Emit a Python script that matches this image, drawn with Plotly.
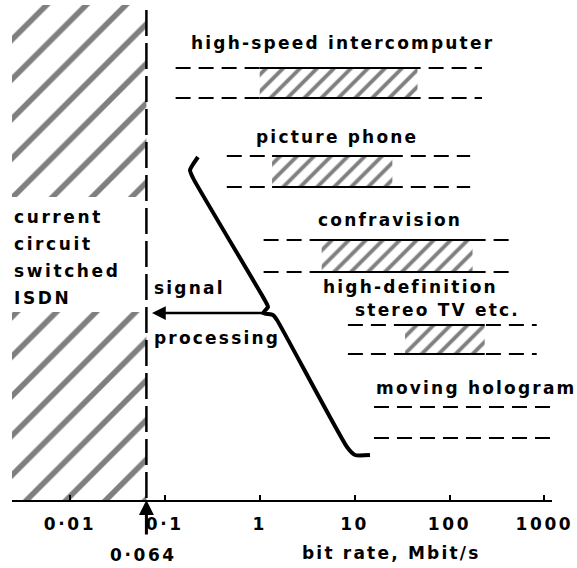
import math
import plotly.graph_objects as go

# Bit-rate requirements of broadband services (Mbit/s)
services = ["high-speed intercomputer", "picture phone", "confravision",
            "high-definition", "moving hologram"]
range_lo = [0.13, 0.45, 1.1, 8.5, 16]
range_hi = [220, 165, 490, 830, 1200]
core_lo = [1.0, 1.35, 4.5, 34, None]
core_hi = [46, 25, 175, 235, None]

isdn_rate = 0.064            # current circuit switched ISDN limit
tick_vals = [0.01, 0.1, 1, 10, 100, 1000]
tick_text = ["0·01", "0·1", "1", "10", "100", "1000"]

# vertical layout (plot height units, 0 = axis)
row_top = [432, 344, 260, 175, 93]
row_bot = [402, 313, 228, 146, 62]
label_x = [342, 337, 390, 410, 476]      # label centres, px from figure left
label_y = [457, 363, 280, 213, 112]

X0, XPX = 259.7, 94.9        # px position of 1 Mbit/s and px per decade
LEFT, RIGHT = 12, 552
PLOT_H = 500


def px_to_rate(px):
    return 10 ** ((px - X0) / XPX)


def px_to_log(px):
    return (px - X0) / XPX


def spaced(txt, sp=2.2):
    return f'<span style="letter-spacing:{sp}px">{txt}</span>'


FONT = dict(family="DejaVu Sans", size=17, color="black", weight="bold")
BLACK = "black"

fig = go.Figure()

x_min = px_to_rate(LEFT)

# hatched band of current circuit-switched ISDN (split around its caption)
for y_a, y_b in [(303, 495), (0, 188)]:
    fig.add_trace(go.Scatter(
        x=[x_min, isdn_rate, isdn_rate, x_min, x_min],
        y=[y_a, y_a, y_b, y_b, y_a],
        mode="lines", fill="toself", line=dict(width=0),
        fillcolor="rgba(0,0,0,0)",
        fillpattern=dict(shape="/", size=28, solidity=0.2,
                         fgcolor=BLACK, bgcolor="white"),
        hoverinfo="skip", showlegend=False))

# ISDN limit
fig.add_trace(go.Scatter(
    x=[isdn_rate, isdn_rate], y=[490, 0], mode="lines",
    line=dict(color=BLACK, width=2.5, dash="26px,7px"),
    hoverinfo="skip", showlegend=False))

# service bands
for i in range(len(services)):
    if core_lo[i] is not None:
        fig.add_trace(go.Scatter(
            x=[core_lo[i], core_hi[i], core_hi[i], core_lo[i], core_lo[i]],
            y=[row_top[i], row_top[i], row_bot[i], row_bot[i], row_top[i]],
            mode="lines", fill="toself", line=dict(width=0),
            fillcolor="rgba(0,0,0,0)",
            fillpattern=dict(shape="/", size=12, solidity=0.32,
                             fgcolor=BLACK, bgcolor="white"),
            hoverinfo="skip", showlegend=False))
    for yy in (row_top[i], row_bot[i]):
        fig.add_trace(go.Scatter(
            x=[range_lo[i], range_hi[i]], y=[yy, yy], mode="lines",
            line=dict(color=BLACK, width=2, dash="15px,8px"),
            hoverinfo="skip", showlegend=False))
        if core_lo[i] is not None:
            fig.add_trace(go.Scatter(
                x=[core_lo[i], core_hi[i]], y=[yy, yy], mode="lines",
                line=dict(color=BLACK, width=2),
                hoverinfo="skip", showlegend=False))

# brace gathering the services towards signal processing
brace_px = [(198, 157), (190, 170), (193, 178), (263, 297), (268, 307),
            (263, 313), (273, 315), (277, 320), (347, 447), (355, 455),
            (370, 455)]
fig.add_trace(go.Scatter(
    x=[px_to_rate(p) for p, _ in brace_px],
    y=[PLOT_H - q for _, q in brace_px],
    mode="lines", line=dict(color=BLACK, width=4, shape="spline", smoothing=0.5),
    hoverinfo="skip", showlegend=False))

ann = []
# signal processing arrow
ann.append(dict(x=px_to_log(152), y=187, xref="x", yref="y",
                ax=px_to_log(265), ay=187, axref="x", ayref="y",
                text="", showarrow=True, arrowhead=2, arrowsize=1.1,
                arrowwidth=2.5, arrowcolor=BLACK, standoff=0))
# 0.064 pointer under the axis
ann.append(dict(x=math.log10(isdn_rate), y=0, xref="x", yref="y",
                ax=0, ay=36, text="", showarrow=True, arrowhead=2,
                arrowsize=1, arrowwidth=3, arrowcolor=BLACK, standoff=0))

for name, lx, ly in zip(services, label_x, label_y):
    ann.append(dict(x=px_to_log(lx), y=ly, xref="x", yref="y",
                    text=spaced(name), showarrow=False, font=FONT,
                    xanchor="center", yanchor="middle"))
ann.append(dict(x=px_to_log(437), y=190, xref="x", yref="y",
                text=spaced("stereo TV etc."), showarrow=False, font=FONT,
                xanchor="center", yanchor="middle"))

for txt, yy in zip(["current", "circuit", "switched", "ISDN"],
                   [283, 256, 229, 202]):
    ann.append(dict(x=px_to_log(LEFT), y=yy, xref="x", yref="y",
                    text=spaced(txt, 2.6), showarrow=False, font=FONT,
                    xanchor="left", yanchor="middle"))

ann.append(dict(x=px_to_log(152), y=212, xref="x", yref="y",
                text=spaced("signal"), showarrow=False, font=FONT,
                xanchor="left", yanchor="middle"))
ann.append(dict(x=px_to_log(152), y=162, xref="x", yref="y",
                text=spaced("processing"), showarrow=False, font=FONT,
                xanchor="left", yanchor="middle"))

pw = RIGHT - LEFT
ann.append(dict(x=(143 - LEFT) / pw, y=-55 / PLOT_H, xref="paper", yref="paper",
                text=spaced("0·064", 2.6), showarrow=False, font=FONT,
                xanchor="center", yanchor="middle"))
ann.append(dict(x=(391 - LEFT) / pw, y=-53 / PLOT_H, xref="paper",
                yref="paper", text=spaced("bit rate, Mbit/s"),
                showarrow=False, font=FONT, xanchor="center",
                yanchor="middle"))

fig.update_layout(
    width=577, height=568,
    margin=dict(l=LEFT, r=577 - RIGHT, t=0, b=568 - PLOT_H),
    paper_bgcolor="white", plot_bgcolor="white",
    showlegend=False,
    annotations=ann,
    xaxis=dict(type="log", range=[px_to_log(LEFT), px_to_log(RIGHT)],
               showgrid=False, zeroline=False, showline=True,
               linecolor=BLACK, linewidth=2, ticks="inside", ticklen=5,
               tickwidth=2, tickcolor=BLACK, tickvals=tick_vals,
               ticktext=[spaced(t, 2.6) for t in tick_text], tickfont=FONT,
               ticklabelstandoff=8, fixedrange=True),
    yaxis=dict(range=[0, PLOT_H], visible=False, fixedrange=True),
)

fig.write_html("out.html")
